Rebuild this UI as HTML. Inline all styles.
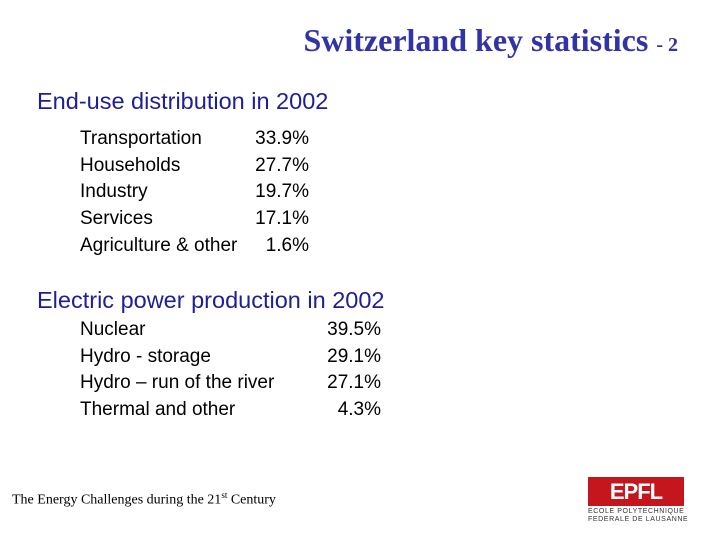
<!DOCTYPE html>
<html><head><meta charset="utf-8"><style>
body{margin:0;width:720px;height:540px;background:#fff;position:relative;overflow:hidden;font-family:"Liberation Sans",sans-serif}
.a{position:absolute;white-space:nowrap}
.t{font-family:"Liberation Serif",serif;font-weight:bold;color:#3333a8;font-size:32px;right:42px;top:22px;line-height:36px}
.t span{font-size:20px}
.h{font-size:23.5px;color:#1e1e96;left:37px;line-height:26px}
.r{font-size:19px;color:#000}
.p{text-align:right}
</style></head><body>
<div class="a t">Switzerland key statistics <span>- 2</span></div>
<div class="a h" style="top:88px">End-use distribution in 2002</div>
<div class="a r" style="left:80px;top:126px;line-height:26.7px">Transportation<br>Households<br>Industry<br>Services<br>Agriculture &amp; other</div>
<div class="a r p" style="right:411px;top:126px;line-height:26.7px">33.9%<br>27.7%<br>19.7%<br>17.1%<br>1.6%</div>
<div class="a h" style="top:287px">Electric power production in 2002</div>
<div class="a r" style="left:80px;top:317px;line-height:26.7px">Nuclear<br>Hydro - storage<br>Hydro – run of the river<br>Thermal and other</div>
<div class="a r p" style="right:339px;top:317px;line-height:26.7px">39.5%<br>29.1%<br>27.1%<br>4.3%</div>
<div class="a" style="left:12px;top:490px;font-family:'Liberation Serif',serif;font-size:14px">The Energy Challenges during the 21<sup style="font-size:9px">st</sup> Century</div>
<div class="a" style="left:588px;top:477px;width:96px;height:29px;background:#c4161c"><div style="color:#fff;font-weight:bold;font-size:22px;text-align:center;line-height:29px;letter-spacing:-1px">EPFL</div></div>
<div class="a" style="left:588px;top:508px;font-size:7px;line-height:8px;color:#333;letter-spacing:0.6px">ECOLE POLYTECHNIQUE<br>FEDERALE DE LAUSANNE</div>
</body></html>
